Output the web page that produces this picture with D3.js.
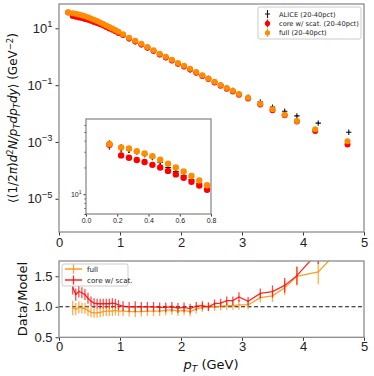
<!DOCTYPE html>
<html>
<head>
<meta charset="utf-8" />
<title>spectrum and ratio</title>
<script src="https://cdn.jsdelivr.net/npm/d3@7/dist/d3.min.js"></script>
<style>
  html, body { margin: 0; padding: 0; background: #fff; }
  svg { display: block; font-family: "DejaVu Sans", sans-serif; }
  .tick line { stroke: #333; }
  .tick text { fill: #222; }
  .frame { fill: none; stroke: #8c8c8c; stroke-width: 1.3px; }
</style>
</head>
<body>
<svg id="chart" width="374" height="376"></svg>
<script>

// model pT points
let ptModel = [0.15, 0.225, 0.275, 0.325, 0.375, 0.425, 0.475, 0.525, 0.575, 0.625, 0.675, 0.725, 0.775,
  0.825, 0.875, 0.925, 0.975, 1.05, 1.15, 1.25, 1.35, 1.45, 1.55, 1.65, 1.75, 1.85, 1.95, 2.05, 2.15,
  2.25, 2.35, 2.45, 2.55, 2.65, 2.75, 2.85, 2.95, 3.1, 3.3, 3.5, 3.7, 3.9, 4.2, 4.73];
let fullVals = [36.6, 33.6, 32.7, 30.5, 28.7, 26.8, 24.4, 22.0, 20.0, 18.0, 16.0, 14.3, 12.6,
  11.1, 9.9, 8.7, 7.6, 6.15, 4.67, 3.66, 2.87, 2.2, 1.68, 1.28, 1.0, 0.78, 0.6, 0.48, 0.378,
  0.289, 0.221, 0.173, 0.132, 0.101, 0.079, 0.0636, 0.0487, 0.0363, 0.0221, 0.0141, 0.0091, 0.00545, 0.00278, 0.00105];
let coreVals = [36.0, 27.3, 25.7, 24.2, 23.0, 21.4, 20.0, 18.3, 16.7, 15.3, 13.8, 12.5, 11.2,
  9.95, 8.85, 7.85, 6.9, 5.8, 4.4, 3.44, 2.7, 2.07, 1.58, 1.2, 0.94, 0.735, 0.565, 0.452, 0.356,
  0.272, 0.208, 0.163, 0.124, 0.095, 0.0745, 0.06, 0.046, 0.034, 0.0208, 0.0132, 0.0087, 0.0052, 0.00242, 0.00082];
let coreErr = [4.5, 0.3, 0.3, 0.3, 0.3, 0.3, 0.3, 0.2, 0.2, 0.2, 0.2, 0.2, 0.2,
  0.1, 0.1, 0.1, 0.1, 0.05, 0.05, 0.04, 0.03, 0.02, 0.02, 0.01, 0.01, 0.01, 0.005, 0.005, 0.004,
  0.003, 0.002, 0.002, 0.001, 0.001, 0.001, 0.0006, 0.0005, 0.0004, 0.0002, 0.0002, 0.0001, 0.0001, 0.00006, 0.00003];

// ALICE data
let ptData = [0.225, 0.275, 0.325, 0.375, 0.425, 0.475, 0.525, 0.575, 0.625, 0.675, 0.725, 0.775,
  0.825, 0.875, 0.925, 0.975, 1.05, 1.15, 1.25, 1.35, 1.45, 1.55, 1.65, 1.75, 1.85, 1.95, 2.05, 2.15,
  2.25, 2.35, 2.45, 2.55, 2.65, 2.75, 2.85, 2.95, 3.1, 3.3, 3.5, 3.7, 3.9, 4.25, 4.75];
let dataVals = [32.9, 31.4, 30.2, 28.1, 26.0, 22.9, 20.0, 18.0, 16.2, 14.6, 13.2, 11.7,
  10.3, 9.2, 8.2, 7.1, 5.72, 4.3, 3.37, 2.64, 2.05, 1.56, 1.19, 0.94, 0.74, 0.558, 0.451, 0.348,
  0.277, 0.219, 0.173, 0.132, 0.102, 0.0806, 0.0649, 0.0502, 0.0374, 0.0258, 0.0168, 0.0121, 0.0083, 0.0046, 0.0022];
let dataErr = [3.5, 2.4, 2.1, 1.8, 1.7, 1.5, 1.3, 1.2, 1.0, 0.9, 0.8, 0.7,
  0.6, 0.55, 0.5, 0.45, 0.35, 0.27, 0.2, 0.16, 0.12, 0.09, 0.07, 0.06, 0.045, 0.034, 0.027, 0.021,
  0.017, 0.013, 0.01, 0.008, 0.006, 0.005, 0.004, 0.003, 0.0023, 0.0016, 0.001, 0.0008, 0.0005, 0.0003, 0.00015];

// data / model
let ratioFull = [0.98, 0.96, 0.99, 0.98, 0.97, 0.94, 0.91, 0.90, 0.90, 0.91, 0.92, 0.93,
  0.93, 0.93, 0.94, 0.93, 0.93, 0.92, 0.92, 0.92, 0.93, 0.93, 0.93, 0.94, 0.95, 0.93, 0.94, 0.92,
  0.96, 0.99, 1.0, 1.0, 1.01, 1.02, 1.02, 1.03, 1.03, 1.15, 1.18, 1.31, 1.5, 1.57, 2.1];
let ratioCore = [1.32, 1.2, 1.25, 1.23, 1.2, 1.14, 1.09, 1.06, 1.05, 1.05, 1.05, 1.05,
  1.05, 1.06, 1.05, 1.03, 1.01, 1.0, 1.0, 1.0, 1.0, 1.0, 0.99, 0.99, 1.0, 0.98, 0.99, 0.97,
  1.01, 1.02, 1.0, 1.05, 1.06, 1.1, 1.1, 1.16, 1.09, 1.22, 1.25, 1.35, 1.51, 1.9, 2.6];
let ratioErr = [0.12, 0.1, 0.1, 0.09, 0.09, 0.09, 0.08, 0.08, 0.08, 0.08, 0.08, 0.08,
  0.08, 0.08, 0.08, 0.08, 0.08, 0.08, 0.09, 0.08, 0.08, 0.08, 0.08, 0.08, 0.08, 0.08, 0.08, 0.08,
  0.07, 0.07, 0.07, 0.07, 0.07, 0.07, 0.07, 0.08, 0.07, 0.08, 0.1, 0.12, 0.15, 0.2, 0.3];

let mainTicks = [1e1, 1e-1, 1e-3, 1e-5];
let ratioTicks = [0.5, 1.0, 1.5];
let xTicks = [0, 1, 2, 3, 4, 5];
let insetXTicks = [0, 0.2, 0.4, 0.6, 0.8];

const ORANGE = '#ff8c00';
const RED = '#ff0000';

let svg = d3.select('#chart');

let x = d3.scaleLinear().domain([0, 5]).range([59, 364]);
let yMain = d3.scaleLog().domain([Math.pow(10, -6.169), Math.pow(10, 1.856)]).range([232, 4]);
let yRatio = d3.scaleLinear().domain([0.5, 1.75]).range([337.3, 261]);
let xIn = d3.scaleLinear().domain([0, 0.8]).range([86, 211]);
let yIn = d3.scaleLog().domain([6, 70]).range([214, 119]);

let model = ptModel.map((p, i) => ({p: p, full: fullVals[i], core: coreVals[i], ce: coreErr[i]}));
let data = ptData.map((p, i) => ({p: p, v: dataVals[i], e: dataErr[i], rf: ratioFull[i], rc: ratioCore[i], re: ratioErr[i]}));

function powLabel(sel, fs) {
  sel.each(function(d) {
    let t = d3.select(this);
    t.text(null);
    let e = Math.round(Math.log10(d));
    t.append('tspan').text('10');
    t.append('tspan').attr('dy', -fs * 0.45).style('font-size', (fs * 0.72) + 'px')
      .text(e < 0 ? '\u2212' + (-e) : '' + e);
  });
}

// ---------- main panel ----------
let gx = svg.append('g').attr('transform', 'translate(0,232)')
  .call(d3.axisBottom(x).tickValues(xTicks).tickFormat(d3.format('d')).tickSize(3.5).tickPadding(2));
gx.select('.domain').remove();
gx.selectAll('text').style('font-size', '13px');

let gy = svg.append('g').attr('transform', 'translate(59,0)')
  .call(d3.axisLeft(yMain).tickValues(mainTicks).tickSize(3.5).tickPadding(3));
gy.select('.domain').remove();
gy.selectAll('text').style('font-size', '13px').call(powLabel, 13);

let clipMain = svg.append('clipPath').attr('id', 'clipMain');
clipMain.append('rect').attr('x', 59).attr('y', 4).attr('width', 305).attr('height', 228);

let pm = svg.append('g').attr('clip-path', 'url(#clipMain)');

function drawSpectra(g, xs, ys, r, filter) {
  let d = data.filter(filter);
  let m = model.filter(filter);
  // ALICE
  g.selectAll('line.derr').data(d).enter().append('line')
    .attr('x1', e => xs(e.p)).attr('x2', e => xs(e.p))
    .attr('y1', e => ys(e.v + e.e)).attr('y2', e => ys(Math.max(e.v - e.e, 1e-9)))
    .attr('stroke', '#111').attr('stroke-width', 1.2);
  g.selectAll('path.dmk').data(d).enter().append('path')
    .attr('d', e => {
      let cx = xs(e.p), cy = ys(e.v), s = r * 0.9;
      return 'M' + (cx - s) + ',' + cy + 'H' + (cx + s) + 'M' + cx + ',' + (cy - s) + 'V' + (cy + s);
    })
    .attr('stroke', '#111').attr('stroke-width', 1.1);
  // core
  g.selectAll('line.cerr').data(m).enter().append('line')
    .attr('x1', e => xs(e.p)).attr('x2', e => xs(e.p))
    .attr('y1', e => ys(e.core + e.ce)).attr('y2', e => ys(e.core - e.ce))
    .attr('stroke', RED).attr('stroke-width', 1.2);
  g.selectAll('circle.core').data(m).enter().append('circle')
    .attr('cx', e => xs(e.p)).attr('cy', e => ys(e.core)).attr('r', r).attr('fill', RED);
  // full
  g.selectAll('circle.full').data(m).enter().append('circle')
    .attr('cx', e => xs(e.p)).attr('cy', e => ys(e.full)).attr('r', r).attr('fill', ORANGE);
}

drawSpectra(pm, x, yMain, 3, () => true);

svg.append('rect').attr('class', 'frame').attr('x', 59).attr('y', 4).attr('width', 305).attr('height', 228);

// legend
let lg = svg.append('g');
lg.append('rect').attr('x', 258).attr('y', 7).attr('width', 103).attr('height', 32)
  .attr('fill', '#fff').attr('stroke', '#ccc').attr('rx', 2);
let legItems = [
  {label: 'ALICE (20-40pct)', kind: 'data'},
  {label: 'core w/ scat. (20-40pct)', kind: RED},
  {label: 'full (20-40pct)', kind: ORANGE}
];
legItems.forEach((it, i) => {
  let cy = 14 + i * 9.4;
  if (it.kind === 'data') {
    lg.append('path').attr('d', 'M265,' + cy + 'H270M267.5,' + (cy - 4) + 'V' + (cy + 4))
      .attr('stroke', '#111').attr('stroke-width', 1.1);
  } else {
    lg.append('line').attr('x1', 267.5).attr('x2', 267.5).attr('y1', cy - 4).attr('y2', cy + 4)
      .attr('stroke', it.kind).attr('stroke-width', 1.2);
    lg.append('circle').attr('cx', 267.5).attr('cy', cy).attr('r', 2.6).attr('fill', it.kind);
  }
  lg.append('text').attr('x', 279).attr('y', cy + 2.5).style('font-size', '6.7px').attr('fill', '#222').text(it.label);
});

// y label
let yl = svg.append('text').attr('transform', 'translate(17,118) rotate(-90)')
  .attr('text-anchor', 'middle').style('font-size', '12px').attr('fill', '#111');
yl.append('tspan').text('\u27E8(1/2');
yl.append('tspan').style('font-style', 'italic').text('\u03C0');
yl.append('tspan').text(')');
yl.append('tspan').style('font-style', 'italic').text('d');
yl.append('tspan').attr('dy', -4).style('font-size', '8.5px').text('2');
yl.append('tspan').attr('dy', 4).style('font-style', 'italic').text('N/p');
yl.append('tspan').attr('dy', 2.5).style('font-size', '8.5px').style('font-style', 'italic').text('T');
yl.append('tspan').attr('dy', -2.5).style('font-style', 'italic').text('dp');
yl.append('tspan').attr('dy', 2.5).style('font-size', '8.5px').style('font-style', 'italic').text('T');
yl.append('tspan').attr('dy', -2.5).style('font-style', 'italic').text('dy');
yl.append('tspan').text('\u27E9 (GeV');
yl.append('tspan').attr('dy', -4).style('font-size', '8.5px').text('\u22122');
yl.append('tspan').attr('dy', 4).text(')');

// ---------- inset ----------
svg.append('rect').attr('x', 86).attr('y', 119).attr('width', 125).attr('height', 95).attr('fill', '#fff');
let clipIn = svg.append('clipPath').attr('id', 'clipIn');
clipIn.append('rect').attr('x', 86).attr('y', 119).attr('width', 125).attr('height', 95);
let pin = svg.append('g').attr('clip-path', 'url(#clipIn)');
drawSpectra(pin, xIn, yIn, 3.2, e => e.p < 0.8);

let gix = svg.append('g').attr('transform', 'translate(0,214)')
  .call(d3.axisBottom(xIn).tickValues(insetXTicks).tickFormat(d3.format('.1f')).tickSize(2.5).tickPadding(2));
gix.select('.domain').remove();
gix.selectAll('text').style('font-size', '7px');

let minorIn = [6, 7, 8, 9, 20, 30, 40, 50, 60];
let giy = svg.append('g').attr('transform', 'translate(86,0)')
  .call(d3.axisLeft(yIn).tickValues(minorIn).tickFormat('').tickSize(1.5));
giy.select('.domain').remove();
let giy2 = svg.append('g').attr('transform', 'translate(86,0)')
  .call(d3.axisLeft(yIn).tickValues([10]).tickSize(2.5).tickPadding(2));
giy2.select('.domain').remove();
giy2.selectAll('text').style('font-size', '7px').call(powLabel, 7);

svg.append('rect').attr('class', 'frame').attr('x', 86).attr('y', 119).attr('width', 125).attr('height', 95);

// ---------- ratio panel ----------
let clipR = svg.append('clipPath').attr('id', 'clipR');
clipR.append('rect').attr('x', 59).attr('y', 261).attr('width', 305).attr('height', 76.3);

let pr = svg.append('g').attr('clip-path', 'url(#clipR)');

pr.append('line').attr('x1', 59).attr('x2', 364).attr('y1', yRatio(1)).attr('y2', yRatio(1))
  .attr('stroke', '#111').attr('stroke-width', 1.1).attr('stroke-dasharray', '4,2.5');

function drawRatio(key, color) {
  let line = d3.line().x(e => x(e.p)).y(e => yRatio(e[key]));
  pr.append('path').datum(data).attr('d', line)
    .attr('fill', 'none').attr('stroke', color).attr('stroke-width', 1.3).attr('opacity', 0.85);
  pr.selectAll('line.e' + key).data(data).enter().append('line')
    .attr('x1', e => x(e.p)).attr('x2', e => x(e.p))
    .attr('y1', e => yRatio(e[key] + e.re)).attr('y2', e => yRatio(e[key] - e.re))
    .attr('stroke', color).attr('stroke-width', 1.3).attr('opacity', 0.7);
}
drawRatio('rf', ORANGE);
drawRatio('rc', RED);

let grx = svg.append('g').attr('transform', 'translate(0,337.3)')
  .call(d3.axisBottom(x).tickValues(xTicks).tickFormat(d3.format('d')).tickSize(3.5).tickPadding(1));
grx.select('.domain').remove();
grx.selectAll('text').style('font-size', '13px');

let gry = svg.append('g').attr('transform', 'translate(59,0)')
  .call(d3.axisLeft(yRatio).tickValues(ratioTicks).tickFormat(d3.format('.1f')).tickSize(3.5).tickPadding(3));
gry.select('.domain').remove();
gry.selectAll('text').style('font-size', '13px');

svg.append('rect').attr('class', 'frame').attr('x', 59).attr('y', 261).attr('width', 305).attr('height', 76.3);

// ratio legend
let rl = svg.append('g');
rl.append('rect').attr('x', 62).attr('y', 264).attr('width', 66).attr('height', 22)
  .attr('fill', '#fff').attr('stroke', '#ccc').attr('rx', 2);
[['full', ORANGE], ['core w/ scat.', RED]].forEach((it, i) => {
  let cy = 269 + i * 11;
  rl.append('line').attr('x1', 65).attr('x2', 82).attr('y1', cy).attr('y2', cy)
    .attr('stroke', it[1]).attr('stroke-width', 1.3);
  rl.append('line').attr('x1', 73.5).attr('x2', 73.5).attr('y1', cy - 4.5).attr('y2', cy + 4.5)
    .attr('stroke', it[1]).attr('stroke-width', 1.3).attr('opacity', 0.8);
  rl.append('text').attr('x', 87).attr('y', cy + 2.5).style('font-size', '7.2px').attr('fill', '#222').text(it[0]);
});

svg.append('text').attr('transform', 'translate(27,299) rotate(-90)').attr('text-anchor', 'middle')
  .style('font-size', '13px').attr('fill', '#111').text('Data/Model');

let xl = svg.append('text').attr('x', 211).attr('y', 369).attr('text-anchor', 'middle')
  .style('font-size', '13px').attr('fill', '#111');
xl.append('tspan').style('font-style', 'italic').text('p');
xl.append('tspan').attr('dy', 3).style('font-size', '9px').style('font-style', 'italic').text('T');
xl.append('tspan').attr('dy', -3).text(' (GeV)');

</script>
</body>
</html>
